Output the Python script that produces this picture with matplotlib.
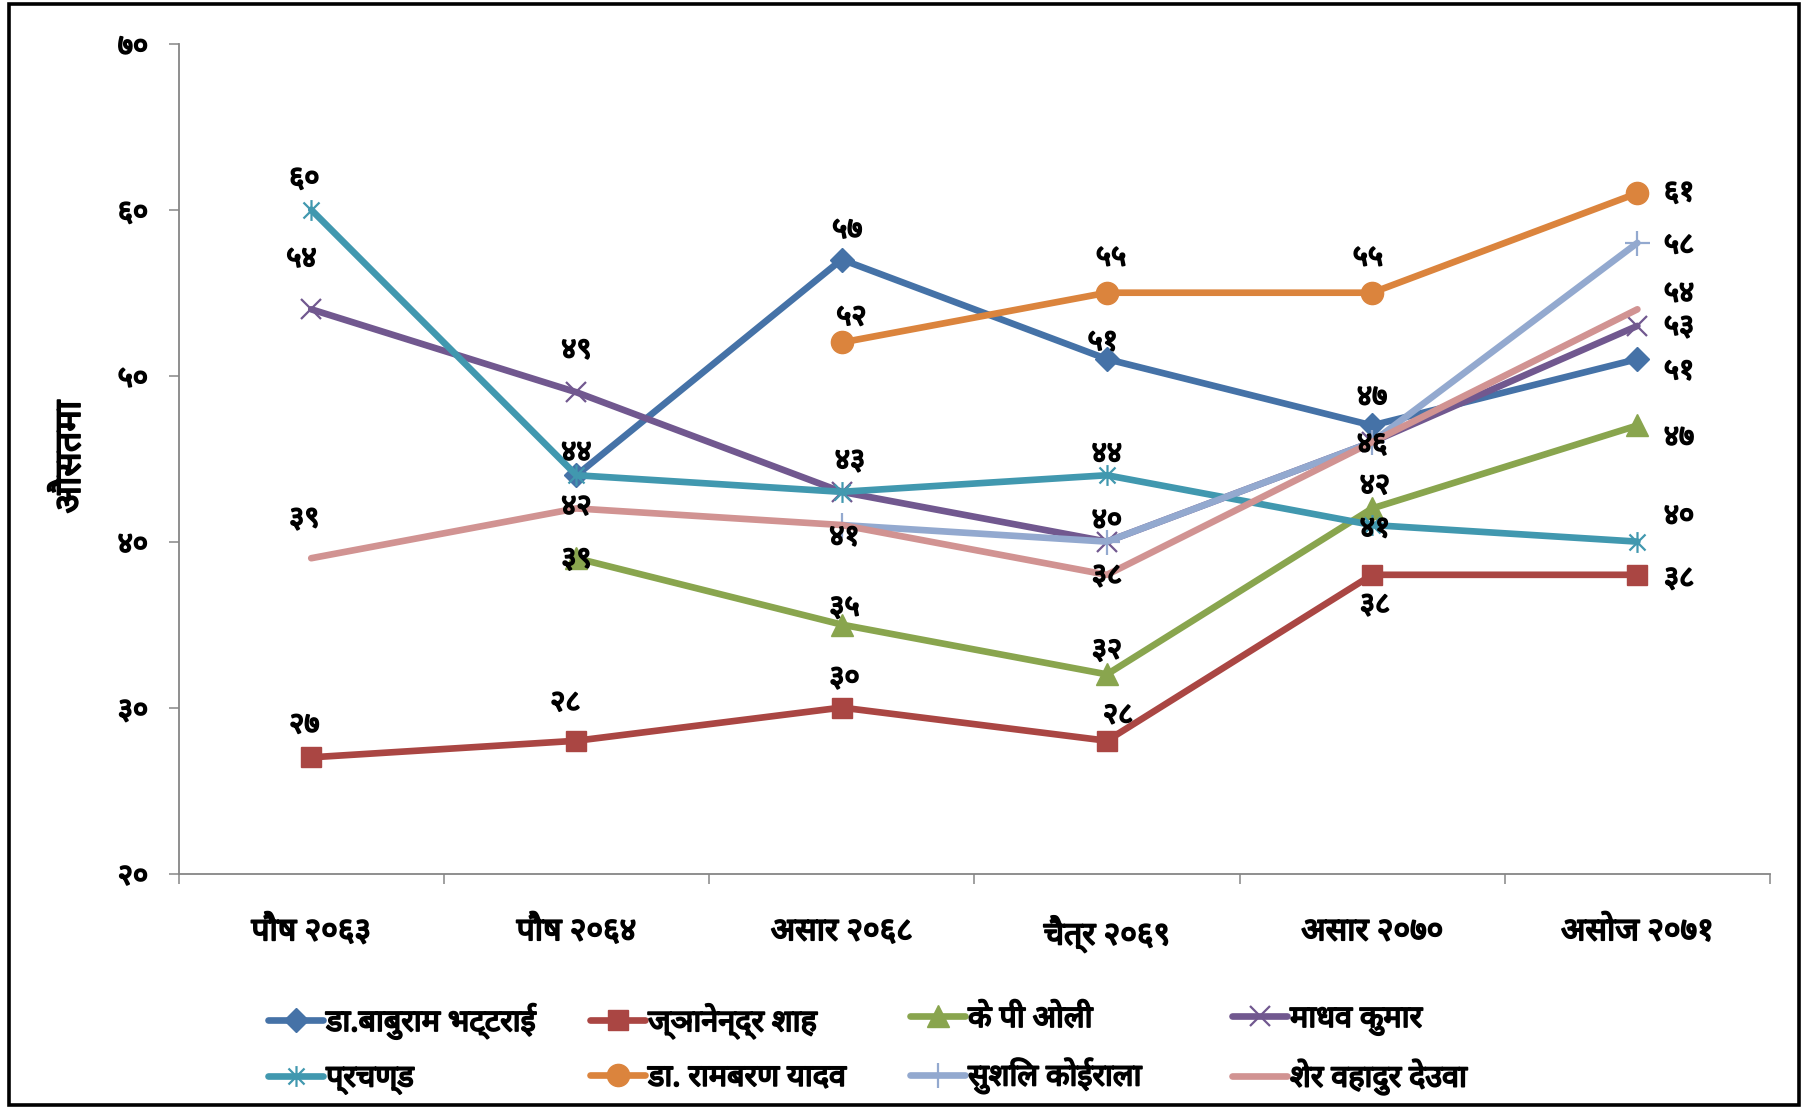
import numpy as np
import matplotlib
matplotlib.use("Agg")
import matplotlib.pyplot as plt
from matplotlib import font_manager
from matplotlib import patheffects as pe
from matplotlib.path import Path
from matplotlib.patches import Rectangle

# ---------------- data ----------------
categories = ["पौष २०६३", "पौष २०६४", "असार २०६८", "चैत्र २०६९", "असार २०७०", "असोज २०७१"]

series_names = [
    "डा.बाबुराम भट्टराई",
    "ज्ञानेन्द्र शाह",
    "के पी ओली",
    "माधव कुमार",
    "प्रचण्ड",
    "डा. रामबरण यादव",
    "सुशिल कोईराला",
    "शेर वहादुर देउवा",
]

nan = np.nan
baburam = [nan, 44, 57, 51, 47, 51]
gyanendra = [27, 28, 30, 28, 38, 38]
oli = [nan, 39, 35, 32, 42, 47]
madhav = [54, 49, 43, 40, 46, 53]
prachanda = [60, 44, 43, 44, 41, 40]
rambaran = [nan, nan, 52, 55, 55, 61]
sushil = [nan, nan, 41, 40, 46, 58]
deuba = [39, 42, 41, 38, 46, 54]

values = [baburam, gyanendra, oli, madhav, prachanda, rambaran, sushil, deuba]

y_ticks = [20, 30, 40, 50, 60, 70]
y_label = "औसतमा"

# value labels: (series index, category index, dx pt, dy pt)
value_labels = [
    (4, 0, -5, 22), (3, 0, -7, 36), (7, 0, -5, 28), (1, 0, -5, 23),
    (3, 1, 0, 30), (4, 1, 0, 16), (7, 1, 0, 1), (2, 1, 0, -1), (1, 1, -8, 27),
    (0, 2, 4, 21), (5, 2, 7, 18), (4, 2, 6, 22), (6, 2, 2, -9), (2, 2, 2, 12), (1, 2, 2, 21),
    (5, 3, 3, 25), (0, 3, -3, 12), (4, 3, 0, 15), (3, 3, 0, 15), (7, 3, 0, -1), (2, 3, 0, 17), (1, 3, 8, 18),
    (5, 4, -3, 25), (0, 4, 0, 20), (3, 4, 0, -2), (2, 4, 2, 16), (4, 4, 2, -3), (1, 4, 2, -22),
    (5, 5, 30, 0), (6, 5, 30, -2), (7, 5, 30, 11), (3, 5, 30, -1), (0, 5, 30, -9),
    (2, 5, 30, -9), (4, 5, 30, 18), (1, 5, 30, -3),
]

# ---------------- fonts ----------------
def devanagari_family():
    try:
        from fontTools.ttLib import TTFont
    except Exception:
        return None
    found = []
    for fe in font_manager.fontManager.ttflist:
        try:
            tt = TTFont(fe.fname, fontNumber=0, lazy=True)
            cmap = tt.getBestCmap() or {}
        except Exception:
            continue
        if 0x0915 in cmap and 0x0966 in cmap:
            found.append(fe.name)
    if not found:
        return None
    for pref in ("Noto Sans Devanagari", "Lohit Devanagari", "Mukta", "Kalimati"):
        if pref in found:
            return pref
    return sorted(found)[0]

dev = devanagari_family()
families = ([dev] if dev else []) + ["DejaVu Sans"]
plt.rcParams["font.family"] = families
plt.rcParams["font.weight"] = "bold"

# thicken glyphs so the text reads heavy
heavy = [pe.withStroke(linewidth=1.3, foreground="black")]

colors = ["#4572A7", "#AA4643", "#89A54E", "#71588F", "#4198AF", "#DB843D", "#93A9CF", "#D19392"]

star = Path([(-1, -1), (1, 1), (-1, 1), (1, -1), (0, -1.3), (0, 1.3)],
            [Path.MOVETO, Path.LINETO] * 3)
styles = [
    dict(marker="D", ms=12.5),
    dict(marker="s", ms=15),
    dict(marker="^", ms=16),
    dict(marker="x", ms=15, mew=1.6),
    dict(marker=star, ms=15, mew=1.6),
    dict(marker="o", ms=16),
    dict(marker="+", ms=18, mew=1.6),
    dict(marker=None),
]

to_dev = str.maketrans("0123456789", "०१२३४५६७८९")

W, H = 1807, 1108
fig = plt.figure(figsize=(W / 100, H / 100), dpi=100)
ax = fig.add_axes([178.6 / W, 1 - 873.5 / H, (1770 - 178.6) / W, (873.5 - 43.8) / H])

x = np.arange(len(categories))
handles = []
for i, (name, vals) in enumerate(zip(series_names, values)):
    st = dict(styles[i])
    ln, = ax.plot(x, vals, color=colors[i], lw=4.8, solid_capstyle="round",
                  solid_joinstyle="round", label=name, zorder=3 + i, **st)
    handles.append(ln)

for si, ci, dx, dy in value_labels:
    v = values[si][ci]
    ax.annotate(str(int(v)).translate(to_dev), (x[ci], v), xytext=(dx, dy),
                textcoords="offset points", ha="center", va="center",
                fontsize=21, fontweight="bold", color="black", zorder=20,
                path_effects=heavy)

ax.set_xlim(-0.5, len(categories) - 0.5)
ax.set_ylim(20, 70)
ax.set_yticks(y_ticks)
ax.set_yticklabels([str(t).translate(to_dev) for t in y_ticks], fontsize=21, fontweight="bold")
ax.set_xticks(x)
ax.set_xticklabels(categories, fontsize=23, fontweight="bold")
ax.set_xticks(np.arange(len(categories) + 1) - 0.5, minor=True)
ax.tick_params(axis="x", which="major", length=0, pad=30)
ax.tick_params(axis="x", which="minor", length=7, width=1.1, color="#868686", direction="out")
ax.tick_params(axis="y", length=7, width=1.1, color="#868686", direction="out", pad=15)
for t in ax.get_xticklabels() + ax.get_yticklabels():
    t.set_path_effects(heavy)

for s in ("top", "right"):
    ax.spines[s].set_visible(False)
for s in ("left", "bottom"):
    ax.spines[s].set_color("#868686")
    ax.spines[s].set_linewidth(1.3)

fig.text(71 / W, 1 - 457 / H, y_label, rotation=90, ha="center", va="center",
         fontsize=26, fontweight="bold", path_effects=heavy)

# legend: four columns of two entries each
col_x = [268, 590, 910, 1232]
for c in range(4):
    hs = [handles[c], handles[c + 4]]
    leg = fig.legend(hs, [h.get_label() for h in hs], loc="upper left",
                     bbox_to_anchor=(col_x[c] / W, 1 - 1004 / H), frameon=False,
                     fontsize=22, handlelength=1.8, handletextpad=0.1,
                     labelspacing=0.8, borderaxespad=0, borderpad=0)
    for t in leg.get_texts():
        t.set_path_effects(heavy)

fig.patches.append(Rectangle((9 / W, 3.5 / H), (1799 - 9) / W, (1104 - 3.5) / H,
                             transform=fig.transFigure, fill=False, lw=2.6,
                             edgecolor="black", zorder=100))

fig.savefig("out.png", dpi=100, facecolor="white")
